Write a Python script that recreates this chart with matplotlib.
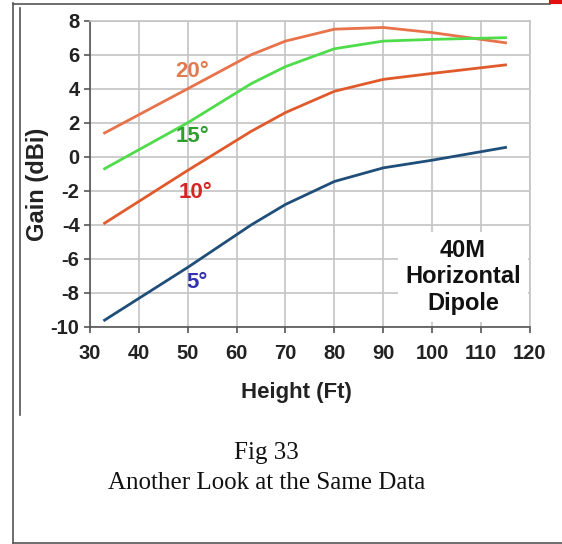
import matplotlib
matplotlib.use("Agg")
import matplotlib.pyplot as plt
from matplotlib.lines import Line2D

plt.rcParams['axes.unicode_minus'] = False

# height in feet
heights = [33, 50, 63, 70, 80, 90, 100, 115]

# gain (dBi) for each take-off angle
gain_20 = [1.4, 4.0, 6.0, 6.8, 7.5, 7.6, 7.3, 6.7]
gain_15 = [-0.7, 2.0, 4.3, 5.3, 6.35, 6.8, 6.9, 7.0]
gain_10 = [-3.9, -0.8, 1.5, 2.6, 3.85, 4.55, 4.9, 5.4]
gain_5 = [-9.6, -6.5, -4.0, -2.8, -1.45, -0.65, -0.2, 0.55]

x_ticks = [30, 40, 50, 60, 70, 80, 90, 100, 110, 120]
y_ticks = [-10, -8, -6, -4, -2, 0, 2, 4, 6, 8]

sans = ['Liberation Sans Narrow', 'Liberation Sans', 'DejaVu Sans']
serif = ['Liberation Serif', 'DejaVu Serif']

fig = plt.figure(figsize=(5.62, 5.44), dpi=100)
ax = fig.add_axes([0.160, 0.399, 0.783, 0.563])

ax.plot(heights, gain_20, color='#E8734A', lw=2.0, zorder=3)
ax.plot(heights, gain_15, color='#4FDC4A', lw=2.0, zorder=3)
ax.plot(heights, gain_10, color='#E05A2B', lw=2.0, zorder=3)
ax.plot(heights, gain_5, color='#1F4E7A', lw=2.0, zorder=3)

ax.text(51, 5.0, "20°", color='#E07B50', fontsize=16, fontweight='bold',
        ha='center', va='center', family=sans)
ax.text(51, 1.2, "15°", color='#2E9E2E', fontsize=16, fontweight='bold',
        ha='center', va='center', family=sans)
ax.text(51.5, -2.1, "10°", color='#D42424', fontsize=16, fontweight='bold',
        ha='center', va='center', family=sans)
ax.text(52, -7.4, "5°", color='#3333B0', fontsize=16, fontweight='bold',
        ha='center', va='center', family=sans)

ax.set_xlim(30, 120)
ax.set_ylim(-10, 8)
ax.set_xticks(x_ticks)
ax.set_yticks(y_ticks)
ax.grid(True, color='#C4C4C4', lw=1.2, zorder=0)
ax.set_axisbelow(True)
for s in ['top', 'right']:
    ax.spines[s].set_color('#C4C4C4')
    ax.spines[s].set_linewidth(1.2)
for s in ['left', 'bottom']:
    ax.spines[s].set_color('#555555')
    ax.spines[s].set_linewidth(1.2)
ax.tick_params(axis='both', length=4, width=1.2, color='#555555')
ax.tick_params(axis='x', pad=8)
ax.tick_params(axis='y', pad=3.5)
for lab in ax.get_xticklabels() + ax.get_yticklabels():
    lab.set_fontweight('bold')
    lab.set_fontsize(14.5)
    lab.set_family(sans)
    lab.set_color('#222222')

ax.set_xlabel("Height (Ft)", fontsize=16, fontweight='bold', family=sans,
              color='#222222', va='center')
ax.xaxis.set_label_coords(0.47, -0.213)
ax.set_ylabel("Gain (dBi)", fontsize=17, fontweight='bold', family=sans,
              color='#222222', va='center')
ax.yaxis.set_label_coords(-0.118, 0.466)

# white box holding the title text over the grid
ax.text(106.3, -7.05, "40M\nHorizontal\nDipole", fontsize=17, fontweight='bold',
        family=['Liberation Sans', 'DejaVu Sans'], ha='center', va='center',
        linespacing=1.2, color='#111111', zorder=4,
        bbox=dict(boxstyle='square,pad=0.3', fc='white', ec='none'))

fig.text(0.474, 0.167, "Fig 33", fontsize=18, family=serif,
         ha='center', va='center', color='#111111')
fig.text(0.474, 0.112, "Another Look at the Same Data", fontsize=18,
         family=serif, ha='center', va='center', color='#111111')

# page frame
W, H = 562.0, 544.0
frame = [
    ([13 / W, 13 / W], [1 - 3 / H, 1 - 543 / H]),
    ([20 / W, 20 / W], [1 - 8 / H, 1 - 415 / H]),
    ([13 / W, 550 / W], [1 - 4 / H, 1 - 4 / H]),
    ([13 / W, 1.0], [1 - 543 / H, 1 - 543 / H]),
]
for xs, ys in frame:
    fig.add_artist(Line2D(xs, ys, color='#555555', lw=1.2, transform=fig.transFigure))
fig.add_artist(Line2D([551 / W, 1.0], [1 - 2 / H, 1 - 2 / H], color='#E01010',
                      lw=3, transform=fig.transFigure))

fig.savefig("out.png", dpi=100)
